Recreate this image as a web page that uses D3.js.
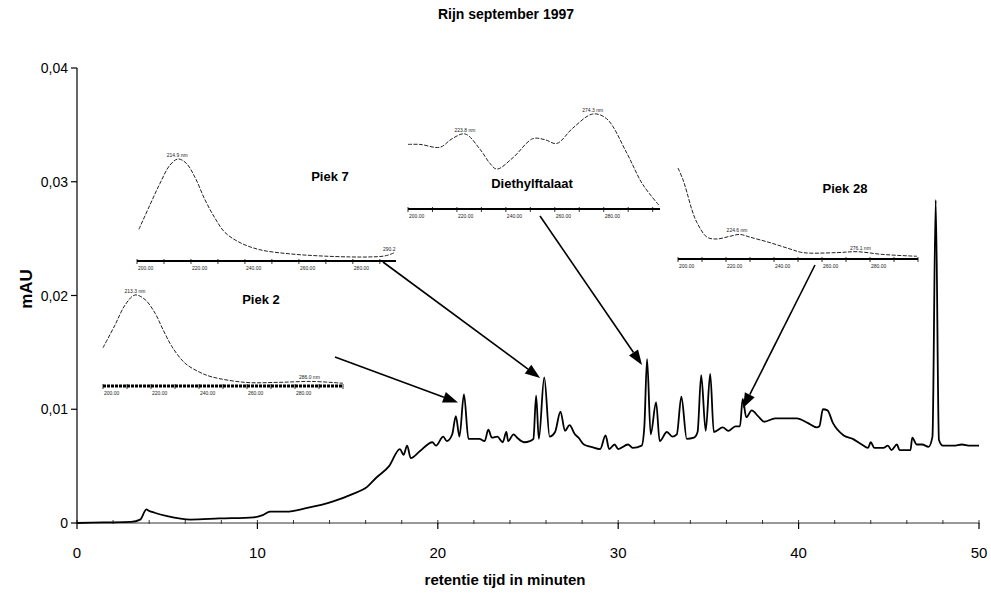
<!DOCTYPE html>
<html>
<head>
<meta charset="utf-8">
<script src="https://cdn.jsdelivr.net/npm/d3@7"></script>
<style>
  body { margin: 0; background: #fff; }
  text { font-family: Arial, "Liberation Sans", sans-serif; }
</style>
</head>
<body>
<div id="chart"></div>
<script>
// chromatogram (retention time in minutes, absorbance in mAU)
const chromTime = [0, 1.5, 3.0, 3.5, 3.85, 3.95, 4.3, 5.0, 6.3, 7.9, 9.8, 10.3, 10.7, 11.6, 12.7, 14.2, 15.2, 16.1, 16.6, 17.3,
    17.9, 18.1, 18.3, 18.5, 19.0, 19.7, 19.9, 20.3, 20.5, 20.8, 21.0, 21.2, 21.45, 21.7, 22.3, 22.6, 22.8, 23.0, 23.3, 23.6,
    23.8, 23.9, 24.2, 24.4, 24.8, 25.1, 25.3, 25.45, 25.6, 25.9, 26.2, 26.5, 26.8, 27.05, 27.3, 27.6, 27.8, 28.1, 28.5, 29.0,
    29.3, 29.5, 29.8, 30.0, 30.55, 30.8, 31.3, 31.45, 31.6, 31.8, 32.1, 32.3, 32.7, 33.0, 33.25, 33.5, 33.8, 34.2, 34.4, 34.6,
    34.85, 35.1, 35.3, 35.8, 36.1, 36.5, 36.75, 36.9, 37.1, 37.4, 37.75, 38.1, 38.7, 39.35, 39.9, 40.5, 41.0, 41.15, 41.35, 41.6,
    41.9, 42.5, 43.0, 43.5, 43.85, 44.0, 44.2, 44.7, 44.95, 45.15, 45.45, 45.6, 46.2, 46.3, 46.55, 46.85, 47.2, 47.42, 47.6, 47.78,
    48.0, 48.6, 49.05, 49.5, 50];
const chromValue = [0, 0.00005, 0.0001, 0.0003, 0.0012, 0.0011, 0.0009, 0.0006, 0.0003, 0.0004, 0.0005, 0.0007, 0.001, 0.001, 0.0013, 0.0019, 0.0025, 0.0032, 0.004, 0.005,
    0.0065, 0.006, 0.0068, 0.0057, 0.0063, 0.0071, 0.0068, 0.0076, 0.0072, 0.0078, 0.0094, 0.0076, 0.0113, 0.0074, 0.0074, 0.0072, 0.0082, 0.0075, 0.0076, 0.0071,
    0.008, 0.0072, 0.0078, 0.0075, 0.0071, 0.0072, 0.0074, 0.0112, 0.0074, 0.0128, 0.0076, 0.008, 0.0098, 0.0081, 0.0086, 0.0078, 0.0075, 0.0069, 0.0067, 0.0065,
    0.0077, 0.0065, 0.0069, 0.0065, 0.0069, 0.0066, 0.0068, 0.0085, 0.0144, 0.0078, 0.0106, 0.0072, 0.008, 0.0076, 0.0078, 0.0111, 0.0074, 0.0075, 0.008, 0.013,
    0.0081, 0.0131, 0.008, 0.0084, 0.0081, 0.0085, 0.0085, 0.0109, 0.0093, 0.0099, 0.0094, 0.0089, 0.0092, 0.0092, 0.0092, 0.0088, 0.0084, 0.0085, 0.01, 0.0099,
    0.0088, 0.0077, 0.0074, 0.0069, 0.0066, 0.0071, 0.0066, 0.0066, 0.0068, 0.0064, 0.0069, 0.0064, 0.0064, 0.0075, 0.0069, 0.0069, 0.0067, 0.0076, 0.0284, 0.0073,
    0.0068, 0.0068, 0.0069, 0.0068, 0.0068];
const xTicks = [0, 10, 20, 30, 40, 50];
const xMinorTicks = d3.range(0, 51, 2);
const yTicks = [0, 0.01, 0.02, 0.03, 0.04];

// UV spectra of the marked peaks (wavelength nm, relative absorbance)
const piek7Wl = [200.7, 204.8, 208.5, 212.2, 215.2, 218.2, 221.5, 225.2, 228.9, 232.6, 238.2, 245.6, 256.7, 267.8, 278.9, 286.4, 291.9, 295.3];
const piek7Abs = [0.31, 0.55, 0.76, 0.94, 1.0, 0.96, 0.82, 0.60, 0.42, 0.28, 0.18, 0.11, 0.07, 0.05, 0.04, 0.04, 0.05, 0.08];
const piek7Ticks = [200, 220, 240, 260, 280];
const piek7Labels = [{ wl: 214.9, abs: 1.0, text: "214.9 nm" }, { wl: 293.5, abs: 0.08, text: "290.2" }];

const piek2Wl = [200, 205, 209.2, 213.3, 217.5, 221.7, 225, 228.8, 234.2, 240.4, 245.4, 259.2, 272.9, 287.1, 300];
const piek2Abs = [0.42, 0.67, 0.89, 1.0, 0.95, 0.80, 0.62, 0.43, 0.25, 0.15, 0.10, 0.04, 0.04, 0.05, 0.03];
const piek2Ticks = [200, 220, 240, 260, 280];
const piek2Labels = [{ wl: 213.3, abs: 1.0, text: "213.3 nm" }, { wl: 286.0, abs: 0.05, text: "286.0 nm" }];

const dephWl = [200, 204.9, 213.1, 218, 223.3, 229.4, 233.5, 236.3, 242.9, 251, 255.9, 260.8, 267.3, 275.5, 281.2, 289.4, 295.9, 302.9];
const dephAbs = [0.68, 0.68, 0.65, 0.74, 0.79, 0.63, 0.48, 0.42, 0.54, 0.74, 0.73, 0.69, 0.85, 1.0, 0.95, 0.59, 0.26, 0.03];
const dephTicks = [200, 220, 240, 260, 280];
const dephLabels = [{ wl: 223.3, abs: 0.79, text: "223.8 nm" }, { wl: 275.5, abs: 1.0, text: "274.3 nm" }];

const piek28Wl = [200, 202.1, 203.75, 205.8, 207.9, 212.1, 216.25, 221.7, 225.8, 230, 238.3, 246.7, 252.1, 266.25, 274.6, 285.4, 299.6];
const piek28Abs = [1.0, 0.87, 0.73, 0.54, 0.40, 0.24, 0.22, 0.25, 0.27, 0.24, 0.18, 0.11, 0.07, 0.07, 0.08, 0.05, 0.03];
const piek28Ticks = [200, 220, 240, 260, 280];
const piek28Labels = [{ wl: 224.6, abs: 0.27, text: "224.6 nm" }, { wl: 276.0, abs: 0.08, text: "276.1 nm" }];

// arrows point at these spots on the chromatogram
const arrowTargetTime = [21.12, 25.67, 31.32, 36.92];
const arrowTargetValue = [0.0106, 0.01275, 0.0139, 0.0101];

const width = 991;
const height = 593;
const margins = { top: 68, right: 12, bottom: 70, left: 77 };

const svg = d3.select("#chart")
    .append("svg")
    .attr("width", width)
    .attr("height", height)
    .style("display", "block");

svg.append("rect").attr("width", width).attr("height", height).attr("fill", "#fff");

const x = d3.scaleLinear().domain([0, 50]).range([margins.left, width - margins.right]);
const y = d3.scaleLinear().domain([0, 0.04]).range([height - margins.bottom, margins.top]);
const comma = d3.formatLocale({ decimal: ",", thousands: ".", grouping: [3], currency: ["", "€"] });
const yFmt = d => d === 0 ? "0" : comma.format(".2f")(d);

// x axis
const gx = svg.append("g").attr("transform", `translate(0,${y(0)})`);
gx.append("line")
    .attr("x1", x(0)).attr("x2", x(50))
    .attr("stroke", "#777").attr("stroke-width", 1.5);
gx.selectAll(".minor")
    .data(xMinorTicks)
    .join("line")
    .attr("x1", d => x(d)).attr("x2", d => x(d))
    .attr("y1", -3).attr("y2", 1)
    .attr("stroke", "#333").attr("stroke-width", 1);
gx.selectAll(".major")
    .data(xTicks)
    .join("line")
    .attr("x1", d => x(d)).attr("x2", d => x(d))
    .attr("y1", 0).attr("y2", 6)
    .attr("stroke", "#000").attr("stroke-width", 1.2);
gx.selectAll("text")
    .data(xTicks)
    .join("text")
    .attr("x", d => x(d))
    .attr("y", 35)
    .attr("text-anchor", "middle")
    .attr("font-size", 15)
    .text(d => d);

// y axis
const gy = svg.append("g").attr("transform", `translate(${x(0)},0)`);
gy.append("line")
    .attr("y1", y(0)).attr("y2", y(0.04))
    .attr("stroke", "#000").attr("stroke-width", 1.2);
gy.selectAll(".tick")
    .data(yTicks)
    .join("line")
    .attr("x1", -6).attr("x2", 0)
    .attr("y1", d => y(d)).attr("y2", d => y(d))
    .attr("stroke", "#000").attr("stroke-width", 1.2);
gy.selectAll("text")
    .data(yTicks)
    .join("text")
    .attr("x", -9)
    .attr("y", d => y(d) + 5)
    .attr("text-anchor", "end")
    .attr("font-size", 14)
    .text(yFmt);

// titles
svg.append("text")
    .attr("x", 506).attr("y", 19)
    .attr("text-anchor", "middle")
    .attr("font-size", 14).attr("font-weight", "bold")
    .text("Rijn september 1997");
svg.append("text")
    .attr("x", 505).attr("y", 585)
    .attr("text-anchor", "middle")
    .attr("font-size", 15).attr("font-weight", "bold")
    .text("retentie tijd in minuten");
svg.append("text")
    .attr("transform", "translate(32,289) rotate(-90)")
    .attr("text-anchor", "middle")
    .attr("font-size", 17).attr("font-weight", "bold")
    .text("mAU");

// chromatogram trace
const trace = d3.line()
    .x((_, i) => x(chromTime[i]))
    .y(d => y(d))
    .curve(d3.curveMonotoneX);
svg.append("path")
    .attr("d", trace(chromValue))
    .attr("fill", "none")
    .attr("stroke", "#000")
    .attr("stroke-width", 1.8)
    .attr("stroke-linejoin", "round");

// spectrum insets
const insets = [
    { name: "Piek 7", wl: piek7Wl, abs: piek7Abs, ticks: piek7Ticks, labels: piek7Labels,
      box: { left: 137, right: 396, axisY: 261, topY: 159 }, domain: [200, 296], title: [330, 181], axisWidth: 2 },
    { name: "Piek 2", wl: piek2Wl, abs: piek2Abs, ticks: piek2Ticks, labels: piek2Labels,
      box: { left: 103, right: 343, axisY: 386, topY: 295 }, domain: [200, 300], title: [261, 304], axisWidth: 3, dashed: true },
    { name: "Diethylftalaat", wl: dephWl, abs: dephAbs, ticks: dephTicks, labels: dephLabels,
      box: { left: 408, right: 660, axisY: 209, topY: 114 }, domain: [200, 303], title: [532, 188], axisWidth: 2 },
    { name: "Piek 28", wl: piek28Wl, abs: piek28Abs, ticks: piek28Ticks, labels: piek28Labels,
      box: { left: 678, right: 918, axisY: 259, topY: 168 }, domain: [200, 300], title: [845, 193], axisWidth: 2 }
];

drawInset = (cfg) => {
    const b = cfg.box;
    const xs = d3.scaleLinear().domain(cfg.domain).range([b.left, b.right]);
    const ys = d3.scaleLinear().domain([0, 1]).range([b.axisY, b.topY]);
    const g = svg.append("g");

    g.append("path")
        .attr("d", d3.line().x((_, i) => xs(cfg.wl[i])).y(d => ys(d)).curve(d3.curveCatmullRom)(cfg.abs))
        .attr("fill", "none")
        .attr("stroke", "#222")
        .attr("stroke-width", 1)
        .attr("stroke-dasharray", "4,1.5");

    g.append("line")
        .attr("x1", b.left).attr("x2", b.right)
        .attr("y1", b.axisY).attr("y2", b.axisY)
        .attr("stroke", "#000")
        .attr("stroke-width", cfg.axisWidth)
        .attr("stroke-dasharray", cfg.dashed ? "3,1" : null);

    const step = cfg.ticks[1] - cfg.ticks[0];
    const minor = d3.range(cfg.domain[0], cfg.domain[1] + 0.1, step / 2);
    g.selectAll(".mt")
        .data(minor)
        .join("line")
        .attr("x1", d => xs(d)).attr("x2", d => xs(d))
        .attr("y1", b.axisY - 2).attr("y2", b.axisY + 3)
        .attr("stroke", "#000").attr("stroke-width", 0.8);

    g.selectAll(".tl")
        .data(cfg.ticks)
        .join("text")
        .attr("x", d => xs(d) + 1)
        .attr("y", b.axisY + 9)
        .attr("font-size", 5)
        .attr("fill", "#222")
        .text(d => d3.format(".2f")(d));

    g.selectAll(".pl")
        .data(cfg.labels)
        .join("text")
        .attr("x", d => xs(d.wl))
        .attr("y", d => ys(d.abs) - 2)
        .attr("text-anchor", "middle")
        .attr("font-size", 5)
        .attr("fill", "#222")
        .text(d => d.text);

    svg.append("text")
        .attr("x", cfg.title[0]).attr("y", cfg.title[1])
        .attr("text-anchor", "middle")
        .attr("font-size", 13).attr("font-weight", "bold")
        .text(cfg.name);
};

insets.forEach(drawInset);

// arrows from the spectra to their peaks
const arrowStarts = [[335, 357], [383, 262], [540, 216], [815, 265]];

arrowStarts.forEach((s, i) => {
    const tx = x(arrowTargetTime[i]);
    const ty = y(arrowTargetValue[i]);
    const ang = Math.atan2(ty - s[1], tx - s[0]);
    const len = 15, half = 5.5;
    const bx = tx - len * Math.cos(ang), by = ty - len * Math.sin(ang);
    svg.append("line")
        .attr("x1", s[0]).attr("y1", s[1])
        .attr("x2", bx).attr("y2", by)
        .attr("stroke", "#000").attr("stroke-width", 1.6);
    const head = [
        [tx, ty],
        [bx + half * Math.sin(ang), by - half * Math.cos(ang)],
        [bx - half * Math.sin(ang), by + half * Math.cos(ang)]
    ];
    svg.append("path")
        .attr("d", d3.line()(head) + "Z")
        .attr("fill", "#000");
});
</script>
</body>
</html>
